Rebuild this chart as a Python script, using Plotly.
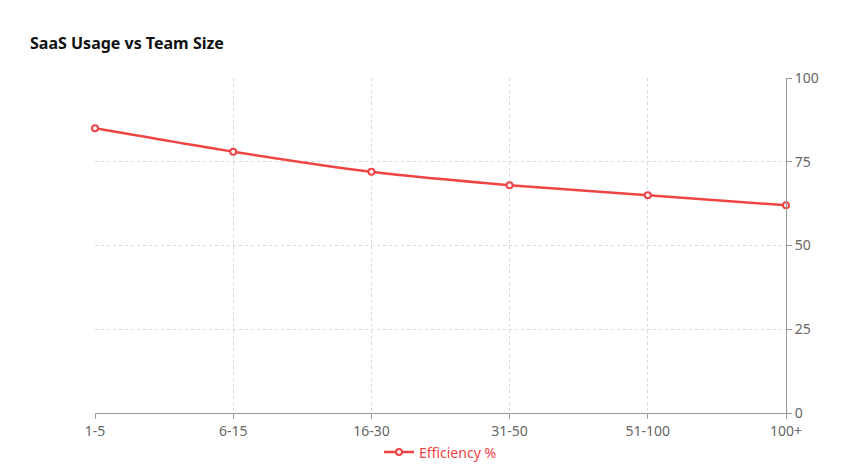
import plotly.graph_objects as go

categories = ["1-5", "6-15", "16-30", "31-50", "51-100", "100+"]
efficiency = [85, 78, 72, 68, 65, 62]

fig = go.Figure()
fig.add_trace(go.Scatter(
    x=list(range(len(categories))), y=efficiency, name="Efficiency %",
    mode="lines+markers", line=dict(color="#ef4444", width=2.5, shape="spline", smoothing=0.6),
    marker=dict(size=6, color="white", line=dict(color="#ef4444", width=2)),
    cliponaxis=False,
))
fig.update_layout(
    width=848, height=471, plot_bgcolor="white", paper_bgcolor="white",
    font=dict(family="Segoe UI, Noto Sans, sans-serif", size=14, color="#666"),
    title=dict(text="<b>SaaS Usage vs Team Size</b>", x=0.026, y=0.925, yref="container",
               xanchor="left", yanchor="middle", font=dict(size=16, color="#111")),
    margin=dict(l=87, r=70, t=70, b=66, autoexpand=False),
    showlegend=True,
    legend=dict(orientation="h", x=0.5, xanchor="center", y=-0.07, yanchor="top",
                font=dict(color="#ef4444", size=14)),
    xaxis=dict(tickmode="array", tickvals=list(range(len(categories))), ticktext=categories,
               range=[0, 5], showgrid=True, gridcolor="#d9d9d9", griddash="dot",
               showline=True, linecolor="#999", ticks="outside", tickcolor="#999", zeroline=False,
               automargin=False),
    yaxis=dict(side="right", range=[0, 100], tickvals=[0, 25, 50, 75, 100],
               showgrid=True, gridcolor="#d9d9d9", griddash="dot",
               showline=True, linecolor="#999", ticks="outside", tickcolor="#999", zeroline=False,
               automargin=False),
)
fig.write_html("out.html")
